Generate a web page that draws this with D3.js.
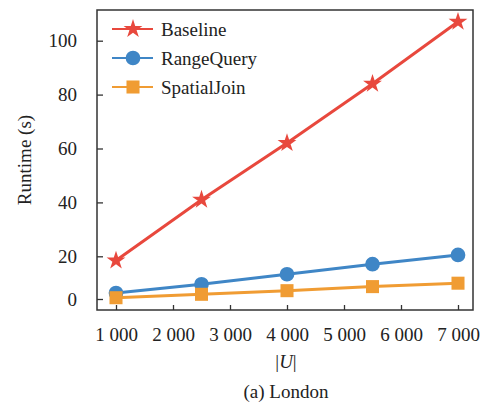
<!DOCTYPE html>
<html>
<head>
<meta charset="utf-8">
<script src="https://cdn.jsdelivr.net/npm/d3@7"></script>
<style>
  body { margin: 0; background: #fff; }
</style>
</head>
<body>
<div id="chart"></div>
<script>
// |U| values on the x axis
const users = [1000, 2500, 4000, 5500, 7000];
const xTicks = [1000, 2000, 3000, 4000, 5000, 6000, 7000];
const yTicks = [0, 20, 40, 60, 80, 100];

// runtime (s)
const baseline = [18, 41, 62, 84, 107];
const rangeQuery = [2.8, 6.9, 11.6, 16.3, 20.5];
const spatialJoin = [0.6, 2.2, 3.9, 5.8, 7.4];

const seriesNames = ["Baseline", "RangeQuery", "SpatialJoin"];
const seriesColors = ["#e8483d", "#3f86c6", "#f09c33"];
const seriesShapes = [d3.symbolStar, d3.symbolCircle, d3.symbolSquare];

const width = 486, height = 408;
const plotLeft = 97, plotRight = 473, plotTop = 10, plotBottom = 310;
const font = "'Liberation Serif', 'Times New Roman', serif";

const series = [baseline, rangeQuery, spatialJoin].map((vals, i) => ({
  name: seriesNames[i],
  color: seriesColors[i],
  shape: seriesShapes[i],
  values: vals.map((v, j) => ({ x: users[j], y: v }))
}));

const x = d3.scaleLinear().domain([1000, 7000]).range([116, 458]);
// the printed axis is not evenly spaced below 20
const y = d3.scaleLinear().domain([0, 20, 100]).range([299, 256.3, 40.7]);

const svg = d3.select("#chart").append("svg")
  .attr("width", width)
  .attr("height", height)
  .attr("font-family", font);

// frame
svg.append("rect")
  .attr("x", plotLeft).attr("y", plotTop)
  .attr("width", plotRight - plotLeft).attr("height", plotBottom - plotTop)
  .attr("fill", "none").attr("stroke", "#333").attr("stroke-width", 1.5);

const xAxis = svg.append("g")
  .attr("transform", `translate(0,${plotBottom})`)
  .call(d3.axisBottom(x).tickValues(xTicks).tickSizeInner(-5).tickSizeOuter(0)
    .tickPadding(18).tickFormat(d => d3.format(",")(d).replace(",", " ")));
xAxis.select(".domain").remove();
xAxis.selectAll("line").attr("stroke", "#333").attr("stroke-width", 1.3);
xAxis.selectAll("text").attr("font-size", 19).attr("font-family", font).attr("fill", "#222");

const yAxis = svg.append("g")
  .attr("transform", `translate(${plotLeft},0)`)
  .call(d3.axisLeft(y).tickValues(yTicks).tickSizeInner(-6).tickSizeOuter(0).tickPadding(20));
yAxis.select(".domain").remove();
yAxis.selectAll("line").attr("stroke", "#333").attr("stroke-width", 1.3);
yAxis.selectAll("text").attr("font-size", 19).attr("font-family", font).attr("fill", "#222");

const line = d3.line().x(d => x(d.x)).y(d => y(d.y));

series.forEach(s => {
  svg.append("path")
    .datum(s.values)
    .attr("fill", "none")
    .attr("stroke", s.color)
    .attr("stroke-width", 3)
    .attr("d", line);
  svg.append("g").selectAll("path")
    .data(s.values)
    .join("path")
    .attr("transform", d => `translate(${x(d.x)},${y(d.y)})`)
    .attr("d", d3.symbol().type(s.shape).size(s.shape === d3.symbolStar ? 110 : 170))
    .attr("fill", s.color);
});

// legend
const legend = svg.append("g").attr("transform", "translate(112,29)");
series.forEach((s, i) => {
  const g = legend.append("g").attr("transform", `translate(0,${i * 29})`);
  g.append("line").attr("x1", 0).attr("x2", 41)
    .attr("stroke", s.color).attr("stroke-width", 2);
  g.append("path")
    .attr("transform", "translate(21,0)")
    .attr("d", d3.symbol().type(s.shape).size(s.shape === d3.symbolStar ? 110 : 170))
    .attr("fill", s.color);
  g.append("text").attr("x", 49).attr("dy", "0.35em")
    .attr("font-size", 19).attr("fill", "#222").text(s.name);
});

// axis titles
svg.append("text")
  .attr("transform", "translate(31,160) rotate(-90)")
  .attr("text-anchor", "middle")
  .attr("font-size", 19).attr("fill", "#222")
  .text("Runtime (s)");

const xt = svg.append("text")
  .attr("x", 286).attr("y", 368)
  .attr("text-anchor", "middle")
  .attr("font-size", 19).attr("fill", "#222");
xt.append("tspan").text("|");
xt.append("tspan").attr("font-style", "italic").text("U");
xt.append("tspan").text("|");

svg.append("text")
  .attr("x", 286).attr("y", 398)
  .attr("text-anchor", "middle")
  .attr("font-size", 19).attr("fill", "#222")
  .text("(a) London");
</script>
</body>
</html>
